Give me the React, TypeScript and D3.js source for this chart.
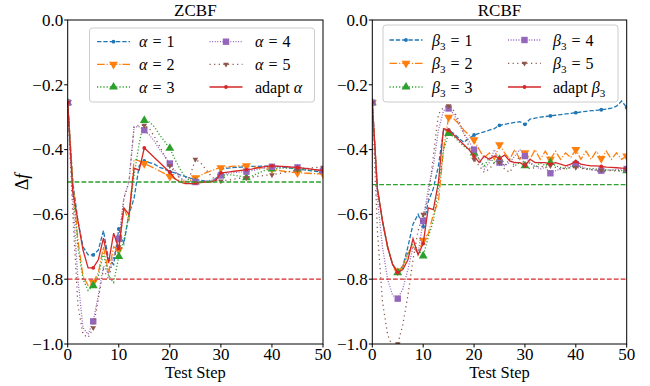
import React from 'react';
import * as d3 from 'd3';

// test steps 0..50
const steps = d3.range(0, 51);
const xTicks = [0, 10, 20, 30, 40, 50];
const yTicks = [0, -0.2, -0.4, -0.6, -0.8, -1.0];

// ZCBF panel, alpha = 1..5 and adaptive alpha
const zcbfAlpha1 = [-0.255, -0.5, -0.62, -0.7, -0.725, -0.725, -0.71, -0.65, -0.74, -0.755, -0.645, -0.69, -0.6, -0.55, -0.45, -0.435, -0.44, -0.445, -0.455, -0.46, -0.468, -0.472, -0.478, -0.483, -0.488, -0.492, -0.495, -0.497, -0.498, -0.49, -0.46, -0.458, -0.456, -0.455, -0.454, -0.453, -0.452, -0.452, -0.451, -0.451, -0.45, -0.452, -0.454, -0.456, -0.458, -0.46, -0.462, -0.464, -0.466, -0.468, -0.47];
const zcbfAlpha2 = [-0.255, -0.5, -0.68, -0.79, -0.82, -0.81, -0.78, -0.7, -0.78, -0.7, -0.71, -0.58, -0.62, -0.43, -0.435, -0.443, -0.45, -0.458, -0.466, -0.474, -0.483, -0.49, -0.497, -0.5, -0.495, -0.487, -0.48, -0.472, -0.466, -0.46, -0.456, -0.454, -0.452, -0.451, -0.45, -0.45, -0.452, -0.455, -0.457, -0.459, -0.46, -0.463, -0.466, -0.468, -0.47, -0.472, -0.472, -0.473, -0.474, -0.475, -0.475];
const zcbfAlpha3 = [-0.255, -0.52, -0.7, -0.8, -0.835, -0.82, -0.79, -0.72, -0.79, -0.81, -0.73, -0.68, -0.6, -0.48, -0.38, -0.31, -0.315, -0.33, -0.355, -0.375, -0.396, -0.43, -0.46, -0.485, -0.497, -0.5, -0.5, -0.5, -0.498, -0.492, -0.48, -0.478, -0.478, -0.48, -0.483, -0.487, -0.482, -0.475, -0.468, -0.462, -0.46, -0.458, -0.457, -0.457, -0.458, -0.46, -0.461, -0.462, -0.463, -0.464, -0.465];
const zcbfAlpha4 = [-0.255, -0.55, -0.8, -0.95, -0.97, -0.93, -0.85, -0.76, -0.78, -0.73, -0.675, -0.55, -0.5, -0.33, -0.33, -0.34, -0.355, -0.375, -0.4, -0.42, -0.443, -0.465, -0.485, -0.497, -0.5, -0.5, -0.498, -0.496, -0.495, -0.49, -0.48, -0.475, -0.472, -0.47, -0.469, -0.468, -0.465, -0.462, -0.458, -0.455, -0.453, -0.453, -0.454, -0.454, -0.455, -0.455, -0.457, -0.459, -0.461, -0.463, -0.465];
const zcbfAlpha5 = [-0.255, -0.6, -0.88, -0.97, -0.98, -0.95, -0.86, -0.77, -0.8, -0.73, -0.7, -0.55, -0.5, -0.33, -0.325, -0.325, -0.335, -0.36, -0.39, -0.42, -0.45, -0.47, -0.49, -0.5, -0.48, -0.43, -0.44, -0.46, -0.48, -0.495, -0.497, -0.495, -0.493, -0.49, -0.488, -0.487, -0.485, -0.483, -0.481, -0.479, -0.478, -0.475, -0.472, -0.469, -0.466, -0.463, -0.46, -0.458, -0.456, -0.455, -0.455];
const zcbfAdapt = [-0.255, -0.53, -0.62, -0.71, -0.765, -0.765, -0.74, -0.673, -0.75, -0.658, -0.705, -0.58, -0.6, -0.457, -0.463, -0.395, -0.41, -0.425, -0.44, -0.455, -0.47, -0.49, -0.5, -0.505, -0.505, -0.503, -0.502, -0.5, -0.5, -0.495, -0.472, -0.47, -0.468, -0.466, -0.464, -0.462, -0.46, -0.457, -0.454, -0.452, -0.45, -0.451, -0.452, -0.453, -0.454, -0.455, -0.457, -0.459, -0.461, -0.463, -0.465];

// RCBF panel, beta3 = 1..5 and adaptive beta3
const rcbfBeta1 = [-0.255, -0.52, -0.62, -0.7, -0.755, -0.775, -0.76, -0.7, -0.63, -0.6, -0.638, -0.56, -0.52, -0.45, -0.34, -0.34, -0.35, -0.365, -0.378, -0.365, -0.355, -0.35, -0.345, -0.34, -0.335, -0.325, -0.322, -0.319, -0.316, -0.314, -0.322, -0.306, -0.303, -0.3, -0.298, -0.296, -0.294, -0.292, -0.29, -0.288, -0.286, -0.284, -0.282, -0.28, -0.279, -0.277, -0.275, -0.272, -0.266, -0.25, -0.27];
const rcbfBeta2 = [-0.255, -0.52, -0.62, -0.7, -0.755, -0.775, -0.76, -0.72, -0.7, -0.72, -0.68, -0.66, -0.6, -0.56, -0.4, -0.3, -0.305, -0.32, -0.34, -0.355, -0.37, -0.4, -0.425, -0.41, -0.43, -0.385, -0.41, -0.43, -0.4, -0.43, -0.41, -0.43, -0.4, -0.43, -0.405, -0.43, -0.405, -0.43, -0.41, -0.425, -0.4, -0.43, -0.405, -0.43, -0.405, -0.428, -0.405, -0.43, -0.41, -0.43, -0.42];
const rcbfBeta3 = [-0.255, -0.52, -0.62, -0.7, -0.755, -0.78, -0.765, -0.72, -0.69, -0.71, -0.728, -0.67, -0.62, -0.52, -0.4, -0.35, -0.36, -0.375, -0.39, -0.4, -0.41, -0.43, -0.45, -0.425, -0.44, -0.43, -0.45, -0.43, -0.45, -0.44, -0.45, -0.44, -0.455, -0.44, -0.45, -0.44, -0.45, -0.455, -0.46, -0.455, -0.445, -0.455, -0.46, -0.458, -0.46, -0.462, -0.462, -0.463, -0.464, -0.465, -0.465];
const rcbfBeta4 = [-0.255, -0.55, -0.7, -0.8, -0.85, -0.86, -0.83, -0.77, -0.7, -0.72, -0.62, -0.52, -0.45, -0.34, -0.28, -0.273, -0.29, -0.32, -0.35, -0.375, -0.4, -0.43, -0.46, -0.44, -0.4, -0.44, -0.45, -0.44, -0.42, -0.4, -0.42, -0.44, -0.45, -0.46, -0.455, -0.473, -0.465, -0.46, -0.455, -0.45, -0.445, -0.452, -0.458, -0.462, -0.464, -0.465, -0.464, -0.463, -0.462, -0.461, -0.46];
const rcbfBeta5 = [-0.255, -0.65, -0.87, -0.97, -1.01, -1.0, -0.94, -0.85, -0.74, -0.65, -0.6, -0.55, -0.42, -0.29, -0.27, -0.265, -0.28, -0.31, -0.35, -0.39, -0.43, -0.45, -0.47, -0.46, -0.44, -0.44, -0.46, -0.47, -0.445, -0.42, -0.445, -0.46, -0.455, -0.45, -0.455, -0.45, -0.455, -0.46, -0.458, -0.456, -0.455, -0.458, -0.46, -0.462, -0.463, -0.464, -0.465, -0.465, -0.466, -0.466, -0.466];
const rcbfAdapt = [-0.255, -0.52, -0.62, -0.7, -0.755, -0.78, -0.77, -0.74, -0.675, -0.725, -0.69, -0.58, -0.585, -0.5, -0.335, -0.34, -0.355, -0.37, -0.385, -0.4, -0.42, -0.44, -0.42, -0.43, -0.42, -0.427, -0.417, -0.435, -0.44, -0.44, -0.45, -0.43, -0.44, -0.44, -0.44, -0.445, -0.44, -0.445, -0.45, -0.445, -0.437, -0.445, -0.448, -0.45, -0.45, -0.452, -0.454, -0.455, -0.456, -0.457, -0.458];

const colors = ['#1f77b4', '#ff7f0e', '#2ca02c', '#9467bd', '#8c564b', '#d62728'];
const dashes = ['4.4,1.9', '7.7,1.9,1.2,1.9', '1.2,2', '1,1.6', '1.2,3.4', null];
const markers = ['point', 'tri_down', 'tri_up', 'square', 'tri_small', 'point'];
const paramValues = ['1', '2', '3', '4', '5'];

const FONT = '"Liberation Serif", "DejaVu Serif", serif';
const top = 20;
const bottom = 344;

function Marker({ type, x, y, color }) {
  if (type === 'point') return <circle cx={x} cy={y} r={1.9} fill={color} />;
  if (type === 'square') return <rect x={x - 3.2} y={y - 3.2} width={6.4} height={6.4} fill={color} />;
  const size = type === 'tri_small' ? 14 : 34;
  const path = d3.symbol(d3.symbolTriangle, size)();
  const rot = type === 'tri_up' ? 0 : 180;
  return <path d={path} transform={`translate(${x},${y}) rotate(${rot})`} fill={color} />;
}

function Label({ x, y, greek, sub, value, adapt }) {
  const g = (
    <>
      <tspan fontStyle="italic">{greek}</tspan>
      {sub ? <tspan fontSize={11} dy={4}>{sub}</tspan> : null}
    </>
  );
  if (adapt) {
    return (
      <text x={x} y={y} fontFamily={FONT} fontSize={16}>
        <tspan>adapt </tspan>
        {g}
      </text>
    );
  }
  return (
    <text x={x} y={y} fontFamily={FONT} fontSize={16}>
      {g}
      <tspan dx={5} dy={sub ? -4 : 0}>=</tspan>
      <tspan dx={5}>{value}</tspan>
    </text>
  );
}

function Panel({ id, left, right, title, series, greek, sub, hlines, legend }) {
  const x = d3.scaleLinear().domain([0, 50]).range([left, right]);
  const y = d3.scaleLinear().domain([-1, 0]).range([bottom, top]);
  const line = d3.line<number>().x((d, i) => x(steps[i])).y((d) => y(d));

  return (
    <g>
      <defs>
        <clipPath id={id}>
          <rect x={left} y={top} width={right - left} height={bottom - top} />
        </clipPath>
      </defs>
      <g clipPath={`url(#${id})`}>
        {series.map((s, k) => (
          <g key={k}>
            <path d={line(s)} fill="none" stroke={colors[k]} strokeWidth={1.3} strokeDasharray={dashes[k] || undefined} />
            {s.map((v, i) => (i % 5 === 0 ? <Marker key={i} type={markers[k]} x={x(steps[i])} y={y(v)} color={colors[k]} /> : null))}
          </g>
        ))}
        {hlines.map((h, k) => (
          <line key={k} x1={left} x2={right} y1={y(h.value)} y2={y(h.value)} stroke={h.color} strokeWidth={1.3} strokeDasharray="4.8,2.1" />
        ))}
      </g>
      <rect x={left} y={top} width={right - left} height={bottom - top} fill="none" stroke="#000" strokeWidth={1} />
      {xTicks.map((t) => (
        <g key={t}>
          <line x1={x(t)} x2={x(t)} y1={bottom} y2={bottom + 3.5} stroke="#000" />
          <text x={x(t)} y={bottom + 16} textAnchor="middle" fontFamily={FONT} fontSize={17}>{t}</text>
        </g>
      ))}
      {yTicks.map((t) => (
        <g key={t}>
          <line x1={left - 3.5} x2={left} y1={y(t)} y2={y(t)} stroke="#000" />
          <text x={left - 4.5} y={y(t) + 5.8} textAnchor="end" fontFamily={FONT} fontSize={17}>
            {t === 0 ? '0.0' : '\u2212' + Math.abs(t).toFixed(1)}
          </text>
        </g>
      ))}
      <text x={(left + right) / 2} y={15.5} textAnchor="middle" fontFamily={FONT} fontSize={17}>{title}</text>
      <text x={(left + right) / 2} y={378} textAnchor="middle" fontFamily={FONT} fontSize={16.5}>Test Step</text>
      <rect x={legend.x} y={legend.y} width={legend.w} height={legend.h} rx={3} fill="#fff" fillOpacity={0.8} stroke="#ccc" strokeWidth={1} />
      {series.map((s, k) => {
        const col = Math.floor(k / 3);
        const row = k % 3;
        const hx = legend.handles[col];
        const cy = legend.rows[row];
        return (
          <g key={k}>
            <line x1={hx} x2={hx + 33} y1={cy} y2={cy} stroke={colors[k]} strokeWidth={1.3} strokeDasharray={dashes[k] || undefined} />
            <Marker type={markers[k]} x={hx + 16.5} y={cy} color={colors[k]} />
            <Label x={legend.texts[col]} y={cy + 5.5} greek={greek} sub={sub} value={paramValues[k]} adapt={k === 5} />
          </g>
        );
      })}
    </g>
  );
}

export default function App() {
  return (
    <svg width={650} height={386} style={{ position: 'absolute', left: 0, top: 0, background: '#fff' }}>
      <Panel
        id="clipL"
        left={67.7}
        right={323}
        title="ZCBF"
        series={[zcbfAlpha1, zcbfAlpha2, zcbfAlpha3, zcbfAlpha4, zcbfAlpha5, zcbfAdapt]}
        greek={'\u03b1'}
        sub={null}
        hlines={[{ value: -0.5, color: '#2ca02c' }, { value: -0.8, color: '#d62728' }]}
        legend={{ x: 89.5, y: 28, w: 225, h: 74, rows: [41.7, 64.3, 87], handles: [97, 209.5], texts: [139, 255] }}
      />
      <Panel
        id="clipR"
        left={372.3}
        right={626.7}
        title="RCBF"
        series={[rcbfBeta1, rcbfBeta2, rcbfBeta3, rcbfBeta4, rcbfBeta5, rcbfAdapt]}
        greek={'\u03b2'}
        sub="3"
        hlines={[{ value: -0.508, color: '#2ca02c' }, { value: -0.8, color: '#d62728' }]}
        legend={{ x: 383, y: 25, w: 235, h: 77, rows: [40, 63.3, 87], handles: [389.5, 508], texts: [432, 553] }}
      />
      <text transform="translate(28,182) rotate(-90)" textAnchor="middle" fontFamily={FONT} fontSize={18}>
        <tspan>{'\u0394'}</tspan>
        <tspan fontStyle="italic">f</tspan>
      </text>
    </svg>
  );
}
